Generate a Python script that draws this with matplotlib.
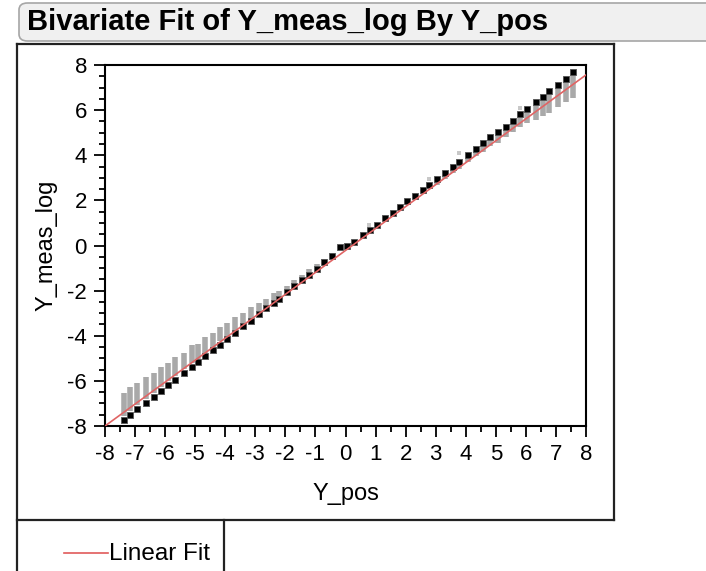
import matplotlib
matplotlib.use("Agg")
import matplotlib.pyplot as plt
from matplotlib.patches import FancyBboxPatch
from matplotlib.lines import Line2D
from matplotlib.ticker import MultipleLocator
import numpy as np

# ---------------- data ----------------
x_pos = [-7.37, -7.18, -6.93, -6.63, -6.38, -6.15, -5.90, -5.66, -5.38, -5.10,
         -4.92, -4.66, -4.40, -4.18, -3.94, -3.66, -3.41, -3.16, -2.89, -2.63,
         -2.39, -2.22, -1.95, -1.70, -1.45, -1.20, -0.95, -0.70, -0.45, -0.17,
         0.05, 0.27, 0.58, 0.82, 1.04, 1.32, 1.58, 1.80, 2.06, 2.32,
         2.57, 2.79, 3.04, 3.31, 3.59, 3.79, 4.06, 4.34, 4.59, 4.81,
         5.08, 5.34, 5.58, 5.81, 6.05, 6.34, 6.58, 6.78, 7.08, 7.33, 7.58]

y_dot = [-7.74, -7.51, -7.25, -6.97, -6.70, -6.43, -6.18, -5.96, -5.64, -5.37,
         -5.17, -4.90, -4.62, -4.39, -4.13, -3.86, -3.59, -3.33, -3.05, -2.78,
         -2.56, -2.36, -2.08, -1.80, -1.52, -1.30, -1.02, -0.74, -0.48, -0.08,
         -0.02, 0.17, 0.47, 0.68, 0.93, 1.21, 1.45, 1.70, 1.97, 2.21,
         2.46, 2.70, 2.95, 3.23, 3.47, 3.71, 4.01, 4.28, 4.53, 4.80,
         5.02, 5.27, 5.52, 5.82, 6.05, 6.35, 6.60, 6.85, 7.11, 7.38, 7.68]

# grey replicate measurements: range of each column (low, high)
grey_lo = [-7.55, -7.32, -7.08, -6.80, -6.54, -6.27, -6.02, -5.80, -5.48, -5.21,
           -5.02, -4.75, -4.48, -4.25, -3.99, -3.73, -3.46, -3.21, -2.93, -2.67,
           -2.45, -2.26, -1.99, -1.72, -1.45, -1.24, -0.96, -0.70, -0.45, -0.12,
           -0.10, 0.10, 0.38, 0.58, 0.85, 1.12, 1.35, 1.58, 1.82, 2.05,
           2.28, 2.50, 2.68, 2.95, 3.22, 3.40, 3.70, 3.95, 4.15, 4.40,
           4.55, 4.80, 5.04, 5.27, 5.42, 5.56, 5.75, 5.86, 6.15, 6.37, 6.52]
grey_hi = [-6.55, -6.29, -6.11, -5.84, -5.67, -5.40, -5.22, -4.96, -4.75, -4.41,
           -4.37, -4.07, -3.89, -3.63, -3.42, -3.18, -2.98, -2.74, -2.56, -2.38,
           -2.12, -2.02, -1.80, -1.52, -1.30, -1.05, -0.82, -0.58, -0.35, -0.02,
           0.06, 0.26, 0.56, 0.77, 1.01, 1.29, 1.53, 1.78, 2.05, 2.29,
           2.54, 2.78, 3.03, 3.31, 3.55, 3.79, 4.09, 4.36, 4.61, 4.88,
           5.10, 5.35, 5.60, 5.90, 6.13, 6.43, 6.68, 6.93, 7.19, 7.46, 7.76]

out_x = [0.79, 2.79, 3.79, 5.81]
out_y = [0.91, 2.95, 4.09, 6.11]

fit_slope = 0.9725
fit_intercept = -0.22

x_ticks = list(range(-8, 9))
y_ticks = [-8, -6, -4, -2, 0, 2, 4, 6, 8]

title = "Bivariate Fit of Y_meas_log By Y_pos"
x_label = "Y_pos"
y_label = "Y_meas_log"
legend_label = "Linear Fit"

# ---------------- layout ----------------
W, H = 706, 571
plt.rcParams['font.family'] = ['Liberation Sans', 'DejaVu Sans']
plt.rcParams['axes.unicode_minus'] = False
fig = plt.figure(figsize=(W / 100, H / 100), dpi=100)


def fx(px):
    return px / W


def fy(py):
    return 1 - py / H


# title bar
bar = FancyBboxPatch((fx(19), fy(41)), fx(720) - fx(19), fy(3) - fy(41),
                     boxstyle="round,pad=0,rounding_size=0.012",
                     transform=fig.transFigure, facecolor="#f0f0f0",
                     edgecolor="#a6a6a6", linewidth=1.2, clip_on=False)
fig.patches.append(bar)
fig.text(fx(27), fy(22.5), title, fontsize=21, fontweight="bold",
         va="center", ha="left", color="black")

# frame lines
frame_kw = dict(transform=fig.transFigure, color="#222222", linewidth=1.6)
fig.add_artist(Line2D([fx(17), fx(614)], [fy(44), fy(44)], **frame_kw))
fig.add_artist(Line2D([fx(17), fx(17)], [fy(44), fy(571)], **frame_kw))
fig.add_artist(Line2D([fx(614), fx(614)], [fy(44), fy(520)], **frame_kw))
fig.add_artist(Line2D([fx(17), fx(614)], [fy(520), fy(520)], **frame_kw))
fig.add_artist(Line2D([fx(224), fx(224)], [fy(520), fy(571)], **frame_kw))

# legend
fig.add_artist(Line2D([fx(64), fx(108)], [fy(553), fy(553)],
                      transform=fig.transFigure, color="#e05a5a", linewidth=1.2))
fig.text(fx(109), fy(554), legend_label, fontsize=17.5, va="center", ha="left")

# axes
ax_left, ax_right, ax_top, ax_bottom = 105, 586, 65, 426
ax = fig.add_axes([fx(ax_left), fy(ax_bottom), fx(ax_right) - fx(ax_left),
                   fy(ax_top) - fy(ax_bottom)])

ax.vlines(x_pos, grey_lo, grey_hi, colors="#a9a9a9", linewidth=4.0, zorder=2)
ax.scatter(out_x, out_y, marker="s", s=12, color="#c8c8c8", linewidths=0, zorder=2)
ax.scatter(x_pos, y_dot, marker="s", s=14, color="black", linewidths=0.6,
           edgecolors="#555555", zorder=3)

xl = np.array([-8, 8])
ax.plot(xl, fit_slope * xl + fit_intercept, color="#e06464", linewidth=1.2, zorder=4)

ax.set_xlim(-8, 8)
ax.set_ylim(-8, 8)
ax.set_xticks(x_ticks)
ax.set_yticks(y_ticks)
ax.xaxis.set_minor_locator(MultipleLocator(0.5))
ax.yaxis.set_minor_locator(MultipleLocator(0.5))
ax.tick_params(which="major", direction="out", length=8, width=1.3,
               labelsize=16, pad=5, color="black")
ax.tick_params(which="minor", direction="out", length=4.5, width=1.3, color="black")
for s in ax.spines.values():
    s.set_linewidth(1.5)
    s.set_color("black")

ax.set_xlabel(x_label, fontsize=17, labelpad=13)
ax.set_ylabel(y_label, fontsize=17, labelpad=7)

fig.savefig("out.png", dpi=100)
